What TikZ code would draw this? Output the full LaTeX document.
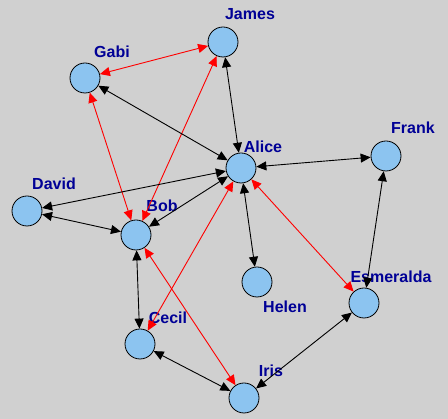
\documentclass[tikz,border=0pt]{standalone}
\usepackage{fontspec}
\setmainfont{Liberation Sans}
\usetikzlibrary{arrows.meta}
\definecolor{bgc}{RGB}{208,208,208}
\definecolor{nodefill}{RGB}{140,196,240}
\definecolor{labc}{RGB}{0,0,150}
\tikzset{
  person/.style={circle, draw=black, line width=0.8pt, fill=nodefill, minimum size=30pt, inner sep=0pt},
  lab/.style={text=labc, font=\bfseries\fontsize{16}{18}\selectfont, inner sep=0pt},
  blk/.style={draw=black, line width=0.9pt, {Triangle[length=10pt,width=9pt]}-{Triangle[length=10pt,width=9pt]}},
  rd/.style={draw=red, line width=0.9pt, {Triangle[length=10pt,width=9pt]}-{Triangle[length=10pt,width=9pt]}}
}
\begin{document}
\begin{tikzpicture}[x=1pt,y=-1pt]
\fill[bgc] (0,0) rectangle (448,419);
\useasboundingbox (0,0) rectangle (448,419);
% nodes
\node[person] (gabi) at (85,78) {};
\node[person] (james) at (223,42) {};
\node[person] (alice) at (241,168) {};
\node[person] (frank) at (386,156) {};
\node[person] (david) at (27,211) {};
\node[person] (bob) at (136,235) {};
\node[person] (cecil) at (140,344) {};
\node[person] (helen) at (257,282) {};
\node[person] (esme) at (364,303) {};
\node[person] (iris) at (244,398) {};
% labels
\node[lab] (lgabi) at (112,52) {Gabi};
\node[lab] (ljames) at (250,14) {James};
\node[lab] (lalice) at (263,147) {Alice};
\node[lab] (lfrank) at (413,128) {Frank};
\node[lab] (ldavid) at (54,184) {David};
\node[lab] (lbob) at (162,206) {Bob};
\node[lab] (lcecil) at (168,318) {Cecil};
\node[lab] (lhelen) at (285,307) {Helen};
\node[lab] (lesme) at (391,277) {Esmeralda};
\node[lab] (liris) at (271,371) {Iris};
% red edges
\draw[rd] (gabi) -- (james);
\draw[rd] (gabi) -- (bob);
\draw[rd] (bob) -- (james);
\draw[rd] (alice) -- (cecil);
\draw[rd] (alice) -- (esme);
\draw[rd] (bob) -- (iris);
% black edges
\draw[blk] (gabi) -- (alice);
\draw[blk] (james) -- (alice);
\draw[blk] (alice) -- (frank);
\draw[blk] (alice) -- (david);
\draw[blk] (alice) -- (bob);
\draw[blk] (alice) -- (helen);
\draw[blk] (david) -- (bob);
\draw[blk] (bob) -- (cecil);
\draw[blk] (cecil) -- (iris);
\draw[blk] (iris) -- (esme);
\draw[blk] (frank) -- (esme);
\end{tikzpicture}
\end{document}
